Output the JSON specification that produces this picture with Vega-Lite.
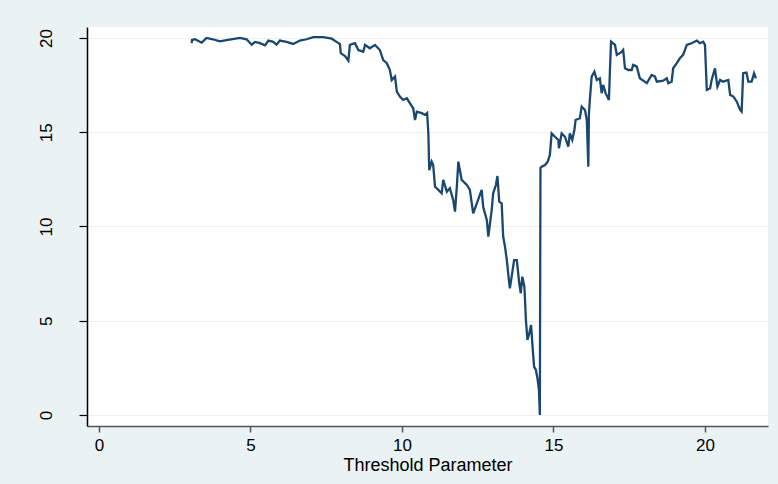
{
  "$schema": "https://vega.github.io/schema/vega-lite/v6.json",
  "width": 681,
  "height": 399,
  "autosize": {"type": "none"},
  "padding": {"left": 87, "top": 27, "right": 10, "bottom": 58},
  "background": "#EAF2F3",
  "config": {
    "view": {"fill": "white", "stroke": null},
    "font": "Liberation Sans"
  },
  "data": {"values": [
    {"t": 3.06, "v": 19.73}, {"t": 3.07, "v": 19.89}, {"t": 3.17, "v": 19.93}, {"t": 3.39, "v": 19.75},
    {"t": 3.55, "v": 20.0}, {"t": 3.76, "v": 19.93}, {"t": 3.99, "v": 19.82}, {"t": 4.21, "v": 19.89},
    {"t": 4.65, "v": 20.0}, {"t": 4.87, "v": 19.93}, {"t": 5.04, "v": 19.64}, {"t": 5.15, "v": 19.79},
    {"t": 5.31, "v": 19.72}, {"t": 5.48, "v": 19.61}, {"t": 5.59, "v": 19.86}, {"t": 5.75, "v": 19.79},
    {"t": 5.86, "v": 19.64}, {"t": 5.97, "v": 19.86}, {"t": 6.19, "v": 19.79}, {"t": 6.41, "v": 19.68},
    {"t": 6.63, "v": 19.86}, {"t": 6.85, "v": 19.93}, {"t": 7.07, "v": 20.04}, {"t": 7.40, "v": 20.04},
    {"t": 7.68, "v": 19.96}, {"t": 7.84, "v": 19.79}, {"t": 7.95, "v": 19.68}, {"t": 7.98, "v": 19.19},
    {"t": 8.06, "v": 19.10}, {"t": 8.12, "v": 19.04}, {"t": 8.23, "v": 18.80}, {"t": 8.28, "v": 19.63},
    {"t": 8.45, "v": 19.72}, {"t": 8.56, "v": 19.36}, {"t": 8.72, "v": 19.27}, {"t": 8.78, "v": 19.63},
    {"t": 8.94, "v": 19.45}, {"t": 9.11, "v": 19.63}, {"t": 9.27, "v": 19.36}, {"t": 9.38, "v": 18.83},
    {"t": 9.50, "v": 18.66}, {"t": 9.60, "v": 18.30}, {"t": 9.66, "v": 17.77}, {"t": 9.77, "v": 17.95},
    {"t": 9.83, "v": 17.15}, {"t": 9.93, "v": 16.89}, {"t": 10.04, "v": 16.71}, {"t": 10.16, "v": 16.80},
    {"t": 10.26, "v": 16.54}, {"t": 10.37, "v": 16.27}, {"t": 10.43, "v": 15.65}, {"t": 10.49, "v": 16.09},
    {"t": 10.65, "v": 16.01}, {"t": 10.76, "v": 15.92}, {"t": 10.83, "v": 16.02}, {"t": 10.87, "v": 14.94},
    {"t": 10.90, "v": 12.99}, {"t": 10.98, "v": 13.44}, {"t": 11.03, "v": 13.26}, {"t": 11.09, "v": 12.11},
    {"t": 11.20, "v": 11.94}, {"t": 11.31, "v": 11.76}, {"t": 11.36, "v": 12.47}, {"t": 11.48, "v": 11.85},
    {"t": 11.58, "v": 12.03}, {"t": 11.69, "v": 11.41}, {"t": 11.75, "v": 10.79}, {"t": 11.81, "v": 12.11},
    {"t": 11.86, "v": 13.44}, {"t": 11.97, "v": 12.47}, {"t": 12.14, "v": 12.20}, {"t": 12.24, "v": 11.94},
    {"t": 12.35, "v": 10.70}, {"t": 12.47, "v": 11.23}, {"t": 12.63, "v": 11.94}, {"t": 12.68, "v": 11.05},
    {"t": 12.80, "v": 10.34}, {"t": 12.85, "v": 9.46}, {"t": 12.96, "v": 10.87}, {"t": 13.01, "v": 11.76},
    {"t": 13.10, "v": 12.20}, {"t": 13.15, "v": 12.68}, {"t": 13.21, "v": 11.32}, {"t": 13.29, "v": 11.23},
    {"t": 13.34, "v": 9.46}, {"t": 13.40, "v": 8.93}, {"t": 13.46, "v": 8.22}, {"t": 13.51, "v": 7.43},
    {"t": 13.56, "v": 6.72}, {"t": 13.62, "v": 7.34}, {"t": 13.70, "v": 8.22}, {"t": 13.79, "v": 8.22},
    {"t": 13.87, "v": 6.99}, {"t": 13.92, "v": 6.46}, {"t": 13.97, "v": 7.34}, {"t": 14.04, "v": 6.81},
    {"t": 14.09, "v": 5.04}, {"t": 14.14, "v": 3.98}, {"t": 14.20, "v": 4.33}, {"t": 14.26, "v": 4.77},
    {"t": 14.31, "v": 3.62}, {"t": 14.36, "v": 2.56}, {"t": 14.42, "v": 2.39}, {"t": 14.48, "v": 1.86},
    {"t": 14.52, "v": 1.33}, {"t": 14.55, "v": 0.0}, {"t": 14.57, "v": 13.10}, {"t": 14.61, "v": 13.17},
    {"t": 14.72, "v": 13.26}, {"t": 14.81, "v": 13.44}, {"t": 14.88, "v": 13.79}, {"t": 14.94, "v": 14.94},
    {"t": 15.05, "v": 14.76}, {"t": 15.16, "v": 14.59}, {"t": 15.18, "v": 14.15}, {"t": 15.27, "v": 14.94},
    {"t": 15.38, "v": 14.76}, {"t": 15.49, "v": 14.23}, {"t": 15.54, "v": 14.94}, {"t": 15.62, "v": 14.59},
    {"t": 15.69, "v": 15.12}, {"t": 15.73, "v": 15.65}, {"t": 15.87, "v": 15.74}, {"t": 15.93, "v": 16.36},
    {"t": 16.04, "v": 16.18}, {"t": 16.10, "v": 15.65}, {"t": 16.15, "v": 13.17}, {"t": 16.17, "v": 16.01},
    {"t": 16.20, "v": 16.71}, {"t": 16.26, "v": 17.95}, {"t": 16.35, "v": 18.21}, {"t": 16.43, "v": 17.77},
    {"t": 16.53, "v": 17.86}, {"t": 16.59, "v": 17.07}, {"t": 16.64, "v": 17.51}, {"t": 16.72, "v": 17.07},
    {"t": 16.83, "v": 16.71}, {"t": 16.86, "v": 18.13}, {"t": 16.90, "v": 19.80}, {"t": 17.03, "v": 19.63},
    {"t": 17.09, "v": 19.10}, {"t": 17.25, "v": 19.26}, {"t": 17.30, "v": 19.36}, {"t": 17.36, "v": 18.39},
    {"t": 17.47, "v": 18.30}, {"t": 17.58, "v": 18.30}, {"t": 17.63, "v": 18.57}, {"t": 17.75, "v": 18.48},
    {"t": 17.85, "v": 17.86}, {"t": 18.08, "v": 17.60}, {"t": 18.24, "v": 18.04}, {"t": 18.35, "v": 17.95},
    {"t": 18.41, "v": 17.68}, {"t": 18.62, "v": 17.73}, {"t": 18.74, "v": 17.86}, {"t": 18.79, "v": 17.60},
    {"t": 18.90, "v": 17.68}, {"t": 18.95, "v": 18.39}, {"t": 19.07, "v": 18.66}, {"t": 19.17, "v": 18.92},
    {"t": 19.28, "v": 19.10}, {"t": 19.40, "v": 19.63}, {"t": 19.56, "v": 19.72}, {"t": 19.73, "v": 19.86},
    {"t": 19.83, "v": 19.72}, {"t": 19.94, "v": 19.80}, {"t": 20.00, "v": 19.63}, {"t": 20.06, "v": 17.24},
    {"t": 20.17, "v": 17.33}, {"t": 20.22, "v": 17.77}, {"t": 20.33, "v": 18.39}, {"t": 20.41, "v": 17.42},
    {"t": 20.50, "v": 17.77}, {"t": 20.60, "v": 17.68}, {"t": 20.77, "v": 17.77}, {"t": 20.83, "v": 16.98},
    {"t": 20.94, "v": 16.89}, {"t": 21.05, "v": 16.62}, {"t": 21.16, "v": 16.18}, {"t": 21.21, "v": 16.09},
    {"t": 21.26, "v": 18.13}, {"t": 21.37, "v": 18.16}, {"t": 21.43, "v": 17.68}, {"t": 21.54, "v": 17.68},
    {"t": 21.62, "v": 18.13}, {"t": 21.68, "v": 17.86}
  ]},
  "mark": {"type": "line", "color": "#1a476f", "strokeWidth": 2.3, "clip": true, "strokeJoin": "miter"},
  "encoding": {
    "x": {
      "field": "t", "type": "quantitative",
      "scale": {"domain": [-0.396, 22.08], "nice": false, "zero": false},
      "axis": {
        "title": "Threshold Parameter", "values": [0, 5, 10, 15, 20], "grid": false,
        "domainColor": "#555555", "domainWidth": 1.5, "tickColor": "#555555", "tickSize": 6, "tickWidth": 1.5,
        "labelFontSize": 17, "labelColor": "black", "labelPadding": 5, "labelFont": "Liberation Sans",
        "titleFontSize": 18, "titleFontWeight": "normal", "titleColor": "black", "titlePadding": 3, "titleFont": "Liberation Sans"
      }
    },
    "y": {
      "field": "v", "type": "quantitative",
      "scale": {"domain": [-0.58, 20.58], "nice": false, "zero": false},
      "axis": {
        "title": null, "values": [0, 5, 10, 15, 20], "grid": true, "gridColor": "#EAF2F3", "gridWidth": 1.2,
        "domainColor": "black", "domainWidth": 1.5, "tickColor": "black", "tickSize": 8, "tickWidth": 1.2,
        "labelFontSize": 17, "labelColor": "black", "labelAngle": -90, "labelAlign": "center", "labelBaseline": "bottom",
        "labelPadding": 24, "labelFont": "Liberation Sans"
      }
    }
  }
}
